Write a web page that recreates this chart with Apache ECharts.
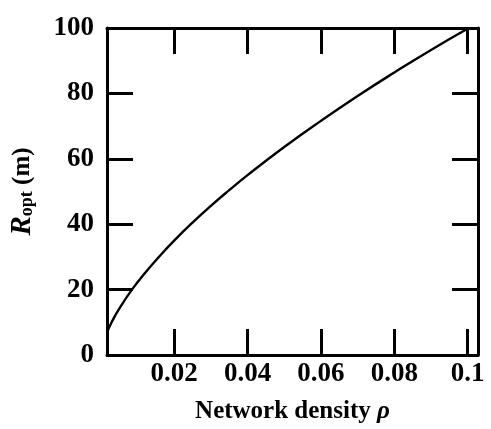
<!DOCTYPE html>
<html><head><meta charset="utf-8">
<script src="https://cdn.jsdelivr.net/npm/echarts@6/dist/echarts.min.js"></script>
<style>html,body{margin:0;padding:0;background:#fff}#c{width:491px;height:429px}</style>
</head><body><div id="c"></div>
<script>
// Network density rho (x) and optimal range R_opt in metres (y)
const rho = [0.0017, 0.003, 0.005, 0.0085, 0.012, 0.016, 0.02, 0.025, 0.03, 0.035, 0.04, 0.05, 0.06, 0.07, 0.08, 0.09, 0.1003];
const rOpt = [6.9, 10.1, 14.1, 20, 25, 30.2, 35, 40.5, 45.6, 50.4, 55, 63.6, 71.6, 79.2, 86.4, 93.3, 100];
const xTicks = [0.02, 0.04, 0.06, 0.08, 0.1];
const yTicks = [0, 20, 40, 60, 80, 100];

const FONT = 'Liberation Serif';
const lineCol = '#000';
const tick = {show: true, inside: true, length: 26, lineStyle: {width: 3, color: lineCol}};
const axLine = {show: true, onZero: false, lineStyle: {width: 3, color: lineCol}};
const xRange = {min: 0.0017, max: 0.1028};

const chart = echarts.init(document.getElementById('c'));
chart.setOption({
  animation: false,
  backgroundColor: '#fff',
  grid: {left: 106, right: 13, top: 28, bottom: 66},
  xAxis: [
    Object.assign({
      type: 'value', position: 'bottom',
      axisLine: axLine,
      axisTick: Object.assign({customValues: xTicks}, tick),
      axisLabel: {customValues: xTicks, color: '#000', fontFamily: FONT, fontWeight: 'bold', fontSize: 27, margin: 6,
        formatter: v => String(v)},
      splitLine: {show: false},
      name: 'Network density {i|ρ}', nameLocation: 'middle', nameGap: 44,
      nameTextStyle: {color: '#000', fontFamily: FONT, fontWeight: 'bold', fontSize: 25,
        rich: {i: {fontFamily: FONT, fontStyle: 'italic', fontWeight: 'bold', fontSize: 25, color: '#000'}}}
    }, xRange),
    Object.assign({
      type: 'value', position: 'top',
      axisLine: axLine,
      axisTick: Object.assign({customValues: xTicks}, tick),
      axisLabel: {show: false},
      splitLine: {show: false}
    }, xRange)
  ],
  yAxis: [
    {
      type: 'value', position: 'left', min: 0, max: 100, interval: 20,
      axisLine: axLine,
      axisTick: Object.assign({customValues: yTicks.slice(1, 5)}, tick),
      axisLabel: {customValues: yTicks, color: '#000', fontFamily: FONT, fontWeight: 'bold', fontSize: 27, margin: 13},
      splitLine: {show: false},
      name: '{r|R}{s|opt}{m| (m)}', nameLocation: 'middle', nameRotate: 90, nameGap: 70,
      nameTextStyle: {color: '#000', fontFamily: FONT, fontWeight: 'bold', fontSize: 25,
        rich: {
          r: {fontFamily: FONT, fontStyle: 'italic', fontWeight: 'bold', fontSize: 29, color: '#000'},
          s: {fontFamily: FONT, fontWeight: 'bold', fontSize: 18, color: '#000', padding: [10, 0, 0, 0]},
          m: {fontFamily: FONT, fontWeight: 'bold', fontSize: 25, color: '#000'}
        }}
    },
    {
      type: 'value', position: 'right', min: 0, max: 100, interval: 20,
      axisLine: axLine,
      axisTick: Object.assign({customValues: yTicks.slice(1, 5)}, tick),
      axisLabel: {show: false},
      splitLine: {show: false}
    }
  ],
  series: [{
    type: 'line', xAxisIndex: 0, yAxisIndex: 0,
    data: rho.map((x, i) => [x, rOpt[i]]),
    smooth: true, showSymbol: false,
    lineStyle: {color: '#000', width: 2.4}
  }]
});
</script></body></html>
